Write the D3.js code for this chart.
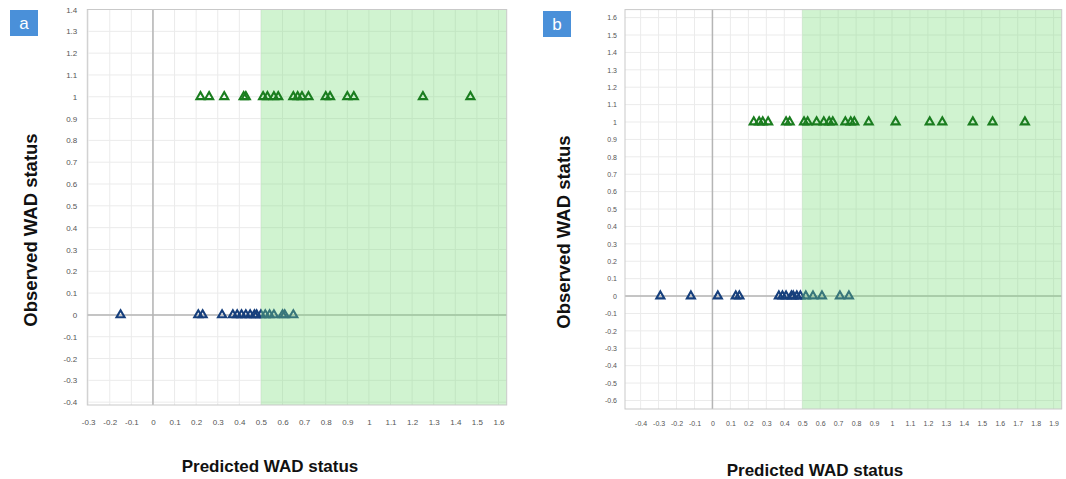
<!DOCTYPE html>
<html><head><meta charset="utf-8">
<script src="https://cdn.jsdelivr.net/npm/d3@7"></script>
<style>body{margin:0;background:#fff}svg{display:block;font-family:"Liberation Sans",Arial,sans-serif}</style>
</head><body><svg id="c" width="1066" height="479"></svg>
<script>
// ---- data ----
const panelLabels = ["a", "b"];
const xTitle = "Predicted WAD status";
const yTitle = "Observed WAD status";
const threshold = 0.5;
// Panel a
const aPositiveX = [0.22,0.26,0.33,0.42,0.43,0.51,0.53,0.56,0.58,0.65,0.67,0.69,0.72,0.80,0.82,0.90,0.93,1.25,1.47];
const aPositiveY = 1;
const aNegativeX = [-0.15,0.21,0.23,0.32,0.37,0.39,0.41,0.43,0.45,0.47,0.48,0.50,0.52,0.54,0.56,0.60,0.61,0.65];
const aNegativeY = 0;
const aXTicks = [-0.3,-0.2,-0.1,0,0.1,0.2,0.3,0.4,0.5,0.6,0.7,0.8,0.9,1,1.1,1.2,1.3,1.4,1.5,1.6];
const aYTicks = [-0.4,-0.3,-0.2,-0.1,0,0.1,0.2,0.3,0.4,0.5,0.6,0.7,0.8,0.9,1,1.1,1.2,1.3,1.4];
// Panel b
const bPositiveX = [0.23,0.26,0.28,0.31,0.41,0.43,0.51,0.53,0.58,0.62,0.65,0.67,0.74,0.77,0.79,0.87,1.02,1.21,1.28,1.45,1.56,1.74];
const bPositiveY = 1;
const bNegativeX = [-0.29,-0.12,0.03,0.13,0.15,0.37,0.39,0.41,0.44,0.45,0.47,0.49,0.52,0.56,0.61,0.71,0.76];
const bNegativeY = 0;
const bXTicks = [-0.4,-0.3,-0.2,-0.1,0,0.1,0.2,0.3,0.4,0.5,0.6,0.7,0.8,0.9,1,1.1,1.2,1.3,1.4,1.5,1.6,1.7,1.8,1.9];
const bYTicks = [-0.6,-0.5,-0.4,-0.3,-0.2,-0.1,0,0.1,0.2,0.3,0.4,0.5,0.6,0.7,0.8,0.9,1,1.1,1.2,1.3,1.4,1.5,1.6];

// ---- layout ----
const panels = [
  {label: panelLabels[0], pos: aPositiveX, posY: aPositiveY, neg: aNegativeX, negY: aNegativeY,
   xTicks: aXTicks, yTicks: aYTicks,
   xDom: [-0.304, 1.638], xRange: [87.3, 506.7], yDom: [-0.413, 1.40], yRange: [405, 9.5],
   tickFont: 8, tickPadX: 14, tickPadY: 10, box: [10, 10], yTitleX: 30, yTitleY: 230, xTitleY: 472, xTitleX: 270},
  {label: panelLabels[1], pos: bPositiveX, posY: bPositiveY, neg: bNegativeX, negY: bNegativeY,
   xTicks: bXTicks, yTicks: bYTicks,
   xDom: [-0.487, 1.945], xRange: [625, 1061.7], yDom: [-0.649, 1.646], yRange: [409, 9.6],
   tickFont: 7, tickPadX: 12, tickPadY: 8, box: [543, 11], yTitleX: 563, yTitleY: 232, xTitleY: 476, xTitleX: 815}
];

const svg = d3.select("#c");
const fmt = d => String(Math.round(d * 10) / 10);
const tri = d3.symbol(d3.symbolTriangle, 28);

panels.forEach(p => {
  const x = d3.scaleLinear().domain(p.xDom).range(p.xRange);
  const y = d3.scaleLinear().domain(p.yDom).range(p.yRange);
  const [x0, x1] = p.xRange, [y1, y0] = p.yRange;
  const g = svg.append("g");

  g.append("rect").attr("x", x0).attr("y", y0).attr("width", x1 - x0).attr("height", y1 - y0).attr("fill", "#fff");

  // grid
  g.append("g").selectAll("line").data(p.xTicks).join("line")
    .attr("x1", d => x(d)).attr("x2", d => x(d)).attr("y1", y0).attr("y2", y1)
    .attr("stroke", "#ebebeb").attr("stroke-width", 1);
  g.append("g").selectAll("line").data(p.yTicks).join("line")
    .attr("y1", d => y(d)).attr("y2", d => y(d)).attr("x1", x0).attr("x2", x1)
    .attr("stroke", "#ebebeb").attr("stroke-width", 1);

  // zero lines
  g.append("line").attr("x1", x(0)).attr("x2", x(0)).attr("y1", y0).attr("y2", y1)
    .attr("stroke", "#b5b5b5").attr("stroke-width", 1.5);
  g.append("line").attr("x1", x0).attr("x2", x1).attr("y1", y(0)).attr("y2", y(0))
    .attr("stroke", "#b5b5b5").attr("stroke-width", 1.5);

  // negative points (blue)
  g.append("g").selectAll("path").data(p.neg).join("path")
    .attr("d", tri).attr("transform", d => `translate(${x(d)},${y(p.negY)})`)
    .attr("fill", "none").attr("stroke", "#163f7c").attr("stroke-width", 2.1);

  // green prediction zone overlay
  g.append("rect").attr("x", x(threshold)).attr("y", y0).attr("width", x1 - x(threshold)).attr("height", y1 - y0)
    .attr("fill", "rgb(120,220,120)").attr("fill-opacity", 0.35);

  // positive points (green)
  g.append("g").selectAll("path").data(p.pos).join("path")
    .attr("d", tri).attr("transform", d => `translate(${x(d)},${y(p.posY)})`)
    .attr("fill", "none").attr("stroke", "#1a7d1f").attr("stroke-width", 2.1);

  // border
  g.append("rect").attr("x", x0).attr("y", y0).attr("width", x1 - x0).attr("height", y1 - y0)
    .attr("fill", "none").attr("stroke", "#c9c9c9").attr("stroke-width", 1);

  // axes (labels only)
  const ax = g.append("g").attr("transform", `translate(0,${y1})`)
    .call(d3.axisBottom(x).tickValues(p.xTicks).tickFormat(fmt).tickSize(0).tickPadding(p.tickPadX));
  const ay = g.append("g").attr("transform", `translate(${x0},0)`)
    .call(d3.axisLeft(y).tickValues(p.yTicks).tickFormat(fmt).tickSize(0).tickPadding(p.tickPadY));
  [ax, ay].forEach(a => {
    a.select(".domain").remove();
    a.selectAll("text").attr("font-size", p.tickFont).attr("fill", "#555").attr("font-family", "Liberation Sans, Arial, sans-serif");
  });

  // titles
  g.append("text").attr("x", p.xTitleX).attr("y", p.xTitleY).attr("text-anchor", "middle")
    .attr("font-size", 17).attr("font-weight", "bold").attr("fill", "#111").text(xTitle);
  g.append("text").attr("transform", `translate(${p.yTitleX},${p.yTitleY}) rotate(-90)`)
    .attr("text-anchor", "middle").attr("dominant-baseline", "central")
    .attr("font-size", 18.5).attr("font-weight", "bold").attr("fill", "#111").text(yTitle);

  // panel label box
  g.append("rect").attr("x", p.box[0]).attr("y", p.box[1]).attr("width", 28).attr("height", 26)
    .attr("fill", "#4a90d9");
  g.append("text").attr("x", p.box[0] + 14).attr("y", p.box[1] + 13).attr("text-anchor", "middle")
    .attr("dominant-baseline", "central").attr("font-size", 17).attr("fill", "#fff").text(p.label);
});
</script></body></html>
